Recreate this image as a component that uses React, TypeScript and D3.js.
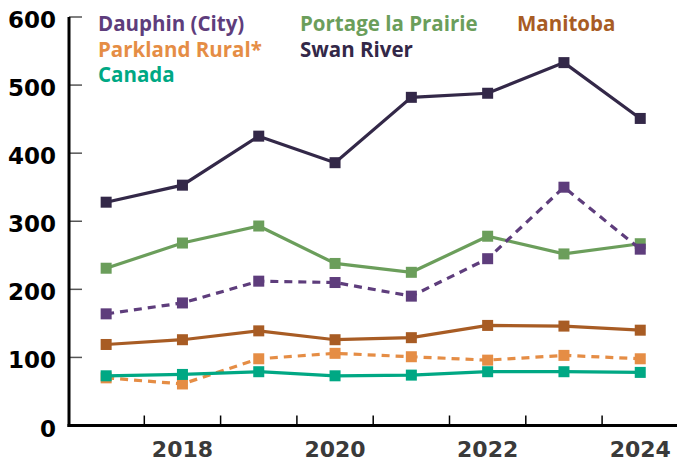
import * as d3 from 'd3';
import React from 'react';

const width = 677;
const height = 462;
const margin = { top: 17, right: 0, bottom: 36, left: 69 };

const years = [2017, 2018, 2019, 2020, 2021, 2022, 2023, 2024];
const yTicks = [0, 100, 200, 300, 400, 500, 600];
const xLabels = [2018, 2020, 2022, 2024];

const parkland = [70, 61, 98, 106, 101, 96, 103, 98];
const canada = [73, 75, 79, 73, 74, 79, 79, 78];
const manitoba = [119, 126, 139, 126, 129, 147, 146, 140];
const portage = [231, 268, 293, 238, 225, 278, 252, 267];
const dauphin = [164, 180, 212, 210, 190, 245, 350, 259];
const swanRiver = [328, 353, 425, 386, 482, 488, 533, 451];

const series = [
  { name: 'Parkland Rural*', values: parkland, color: '#e58d45', dashed: true },
  { name: 'Canada', values: canada, color: '#00a884', dashed: false },
  { name: 'Manitoba', values: manitoba, color: '#a85c24', dashed: false },
  { name: 'Portage la Prairie', values: portage, color: '#6b9e5b', dashed: false },
  { name: 'Dauphin (City)', values: dauphin, color: '#5e3d7c', dashed: true },
  { name: 'Swan River', values: swanRiver, color: '#332848', dashed: false },
];

// legend layout: columns of names
const legendCols = [
  ['Dauphin (City)', 'Parkland Rural*', 'Canada'],
  ['Portage la Prairie', 'Swan River'],
  ['Manitoba'],
];
const legendX = [98, 300, 517];

const App = () => {
  const xScale = d3.scaleBand<number>()
    .domain(years)
    .range([margin.left - 1, margin.left - 1 + 8 * 76.3]);
  const yScale = d3.scaleLinear().domain([0, 600]).range([height - margin.bottom - 0.5, margin.top]);
  const cx = (y: number) => (xScale(y) as number) + xScale.bandwidth() / 2;

  const line = d3.line<number>()
    .x((d, i) => cx(years[i]))
    .y(d => yScale(d));

  const colorOf = (n: string) => series.find(s => s.name === n)!.color;
  const y0 = yScale(0);

  return (
    <svg width={width} height={height} style={{ display: 'block', position: 'absolute', left: 0, top: 0 }}>
      <rect width={width} height={height} fill='#fff' />
      {/* y ticks */}
      {yTicks.map(t => (
        <g key={t}>
          <line x1={margin.left} x2={margin.left + 13} y1={yScale(t)} y2={yScale(t)} stroke='#555' strokeWidth='1.5' />
          <text x={56} y={yScale(t) + 11} textAnchor='end' fontFamily='DejaVu Sans' fontWeight='bold' fontSize='23' fill='#000'>{t}</text>
        </g>
      ))}
      {/* x ticks at band edges */}
      {years.slice(1).map(y => (
        <line key={y} x1={xScale(y)} x2={xScale(y)} y1={y0} y2={y0 - 10} stroke='#000' strokeWidth='1.5' />
      ))}
      {xLabels.map(y => (
        <text key={y} x={cx(y)} y={457} textAnchor='middle' fontFamily='DejaVu Sans' fontWeight='bold' fontSize='22' fill='#3a3a3a'>{y}</text>
      ))}
      {/* axes */}
      <line x1={margin.left} x2={margin.left} y1={margin.top} y2={y0 + 1.5} stroke='#000' strokeWidth='3' />
      <line x1={margin.left - 1.5} x2={width} y1={y0} y2={y0} stroke='#000' strokeWidth='3' />
      {series.map(s => (
        <g key={s.name}>
          <path d={line(s.values) as string} fill='none' stroke={s.color} strokeWidth='3.2'
            strokeDasharray={s.dashed ? '8 6' : undefined} />
          {s.values.map((v, i) => (
            <rect key={i} x={cx(years[i]) - 5.5} y={yScale(v) - 5.5} width='11' height='11' fill={s.color} />
          ))}
        </g>
      ))}
      {legendCols.map((col, ci) => col.map((n, ri) => (
        <text key={n} x={legendX[ci]} y={31 + ri * 25.5} fontFamily='Open Sans' fontWeight='700' fontSize='20.5' fill={colorOf(n)}>{n}</text>
      )))}
    </svg>
  );
};

export default App;
